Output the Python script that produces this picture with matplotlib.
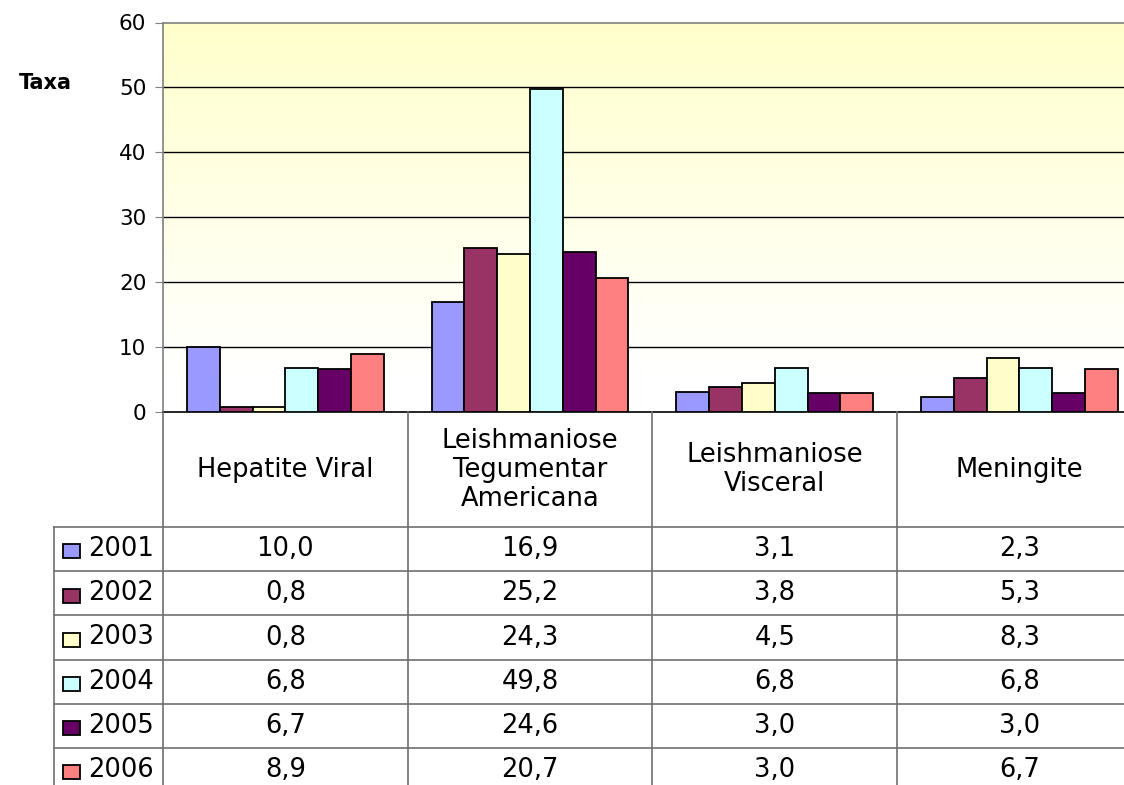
import numpy as np
import matplotlib
matplotlib.use("Agg")
import matplotlib.pyplot as plt
from matplotlib.patches import Rectangle

# ---- data ----
categories = ["Hepatite Viral", "Leishmaniose\nTegumentar\nAmericana",
              "Leishmaniose\nVisceral", "Meningite"]
years = ["2001", "2002", "2003", "2004", "2005", "2006"]
v2001 = [10.0, 16.9, 3.1, 2.3]
v2002 = [0.8, 25.2, 3.8, 5.3]
v2003 = [0.8, 24.3, 4.5, 8.3]
v2004 = [6.8, 49.8, 6.8, 6.8]
v2005 = [6.7, 24.6, 3.0, 3.0]
v2006 = [8.9, 20.7, 3.0, 6.7]
series = [v2001, v2002, v2003, v2004, v2005, v2006]
colors = ["#9999FF", "#993366", "#FFFFCC", "#CCFFFF", "#660066", "#FF8080"]
yticks = [0, 10, 20, 30, 40, 50, 60]
ylabel = "Taxa"

W, H = 1124, 785
plt.rcParams['font.family'] = ['DejaVu Sans']
fig = plt.figure(figsize=(W / 100, H / 100), dpi=100)

col_w = 244.7
x0, y_top, y_zero = 163, 22.5, 412
ncat = len(categories)
ax = fig.add_axes([x0 / W, 1 - y_zero / H, ncat * col_w / W, (y_zero - y_top) / H])
ax.set_xlim(0, ncat)
ax.set_ylim(0, 60)

# gradient background (yellow at top -> white at bottom)
grad = np.linspace(0, 1, 256)[:, None]
top = np.array([255, 255, 204]) / 255
bot = np.array([255, 255, 255]) / 255
frac = np.clip(grad / 0.9, 0, 1)
img = (top[None, None, :] * (1 - frac[..., None]) + bot[None, None, :] * frac[..., None])
ax.imshow(img, extent=[0, ncat, 0, 60], aspect='auto', zorder=0, origin='upper')
ax.set_xlim(0, ncat)
ax.set_ylim(0, 60)

for yv in yticks[1:-1]:
    ax.axhline(yv, color='black', lw=1, zorder=1)

bw = 32.8 / col_w
n = len(series)
xc = np.arange(ncat) + 0.5
for i, (vals, c) in enumerate(zip(series, colors)):
    ax.bar(xc + (i - (n - 1) / 2) * bw, vals, width=bw, color=c,
           edgecolor='black', linewidth=1.3, zorder=3)

ax.set_yticks(yticks)
ax.set_yticklabels([str(t) for t in yticks], fontsize=15.5)
ax.tick_params(axis='y', direction='out', length=6, color='#808080', pad=6)
ax.set_xticks([])
for s in ['left', 'top']:
    ax.spines[s].set_color('#808080')
    ax.spines[s].set_linewidth(1.2)
ax.spines['right'].set_visible(False)
ax.spines['bottom'].set_color('black')
ax.spines['bottom'].set_linewidth(1.2)

fig.text(45 / W, 1 - 83 / H, ylabel, fontsize=15, fontweight='bold',
         ha='center', va='center')

# ---- data table ----
head_h = 115 / 44.2
nrows = len(years)
left_u = (54 - x0) / col_w
bottom_px = 412 + 115 + 44.2 * nrows
tab = fig.add_axes([54 / W, 1 - bottom_px / H, (ncat * col_w + (x0 - 54)) / W,
                    (bottom_px - 412) / H])
tab.set_xlim(left_u, ncat)
tab.set_ylim(head_h + nrows, 0)
tab.axis('off')
lc = '#707070'
for k in range(ncat + 1):
    tab.plot([k, k], [0, head_h + nrows], color=lc, lw=1.2, clip_on=False)
tab.plot([left_u, left_u], [head_h, head_h + nrows], color=lc, lw=1.2, clip_on=False)
for r in range(nrows + 1):
    tab.plot([left_u, ncat], [head_h + r, head_h + r], color=lc, lw=1.2, clip_on=False)

fs = 18.5
for k, cat in enumerate(categories):
    tab.text(k + 0.5, head_h / 2, cat, ha='center', va='center', fontsize=fs,
             linespacing=1.15)

sq_x0 = (63 - x0) / col_w
sq_w = 17 / col_w
sq_h = 14 / 44.2
for r, (yr, vals, c) in enumerate(zip(years, series, colors)):
    yc = head_h + r + 0.5
    tab.add_patch(Rectangle((sq_x0, yc - sq_h / 2 + 0.05), sq_w, sq_h, facecolor=c,
                            edgecolor='black', lw=1.3, clip_on=False))
    tab.text((88 - x0) / col_w, yc, yr, ha='left', va='center', fontsize=fs)
    for k, v in enumerate(vals):
        tab.text(k + 0.5, yc, f"{v:.1f}".replace('.', ','), ha='center',
                 va='center', fontsize=fs)

fig.savefig("out.png", dpi=100)
